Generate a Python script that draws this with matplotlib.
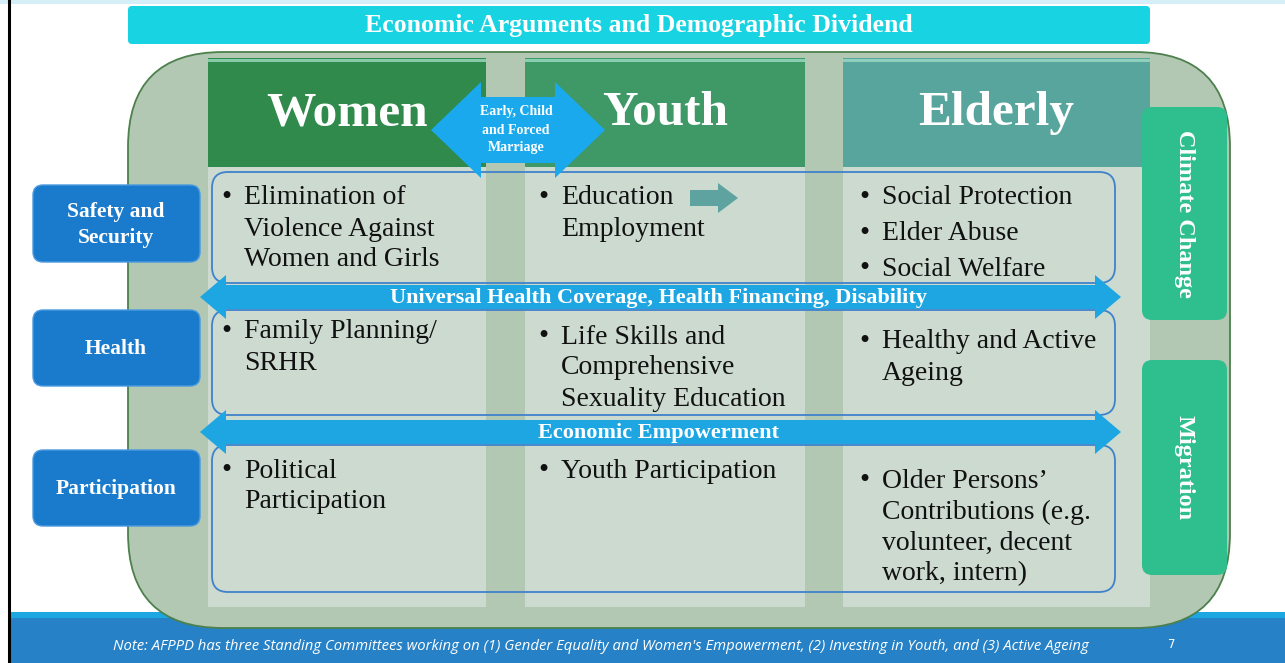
import matplotlib.pyplot as plt
from matplotlib.patches import FancyBboxPatch, Rectangle, Polygon

# ---------------- content ----------------
title = "Economic Arguments and Demographic Dividend"
columns = ["Women", "Youth", "Elderly"]
column_colors = ["#2F8A4B", "#3E9966", "#58A59D"]
rows = ["Safety and\nSecurity", "Health", "Participation"]
side_labels = ["Climate Change", "Migration"]
arrow_labels = ["Universal Health Coverage, Health Financing, Disability", "Economic Empowerment"]
marriage_label = "Early, Child\nand Forced\nMarriage"
note = ("Note: AFPPD has three Standing Committees working on (1) Gender Equality and Women's Empowerment, "
        "(2) Investing in Youth, and (3) Active Ageing")
page_no = "7"

# bullet cells: (column, first line y, [(bullet?, text), ...], line step)
cells = [
    (0, 198, [(True, "Elimination of"), (False, "Violence Against"), (False, "Women and Girls")], 31),
    (1, 198, [(True, "Education"), (False, "Employment")], 31),
    (2, 198, [(True, "Social Protection"), (True, "Elder Abuse"), (True, "Social Welfare")], 35.5),
    (0, 332, [(True, "Family Planning/"), (False, "SRHR")], 31),
    (1, 337, [(True, "Life Skills and"), (False, "Comprehensive"), (False, "Sexuality Education")], 31),
    (2, 342, [(True, "Healthy and Active"), (False, "Ageing")], 31),
    (0, 471, [(True, "Political"), (False, "Participation")], 31),
    (1, 471, [(True, "Youth Participation")], 31),
    (2, 481, [(True, "Older Persons\u2019"), (False, "Contributions (e.g."), (False, "volunteer, decent"),
              (False, "work, intern)")], 31),
]

# ---------------- layout ----------------
col_x = [(208, 486), (525, 805), (843, 1150)]
row_label_y = [(185, 262), (310, 386), (450, 526)]
row_frames = [(172, 283), (310, 415), (445, 592)]
arrow_y = [297, 432]
side_y = [(107, 320), (360, 575)]
serif = "Liberation Serif"

fig = plt.figure(figsize=(12.85, 6.63), dpi=100)
ax = fig.add_axes([0, 0, 1, 1])
ax.set_xlim(0, 1285)
ax.set_ylim(663, 0)
ax.axis("off")


def double_arrow(x0, x1, yc, shaft, head, head_len, color, z):
    h, s = head / 2, shaft / 2
    pts = [(x0, yc), (x0 + head_len, yc - h), (x0 + head_len, yc - s), (x1 - head_len, yc - s),
           (x1 - head_len, yc - h), (x1, yc), (x1 - head_len, yc + h), (x1 - head_len, yc + s),
           (x0 + head_len, yc + s), (x0 + head_len, yc + h)]
    ax.add_patch(Polygon(pts, closed=True, fc=color, ec="none", zorder=z))


# page furniture
ax.add_patch(Rectangle((0, 0), 1285, 4, fc="#D6EEF8", ec="none", zorder=0))
ax.plot([9, 9], [0, 663], color="black", lw=2.2, zorder=10)
ax.add_patch(Rectangle((10, 612), 1275, 7, fc="#1CA6E2", ec="none", zorder=1))
ax.add_patch(Rectangle((10, 618), 1275, 45, fc="#2681C6", ec="none", zorder=1))
ax.text(601, 647, note, color="white", fontsize=10.7, style="italic", ha="center", va="center",
        family="Open Sans", zorder=12)
ax.text(1172, 645, page_no, color="white", fontsize=8.5, ha="center", va="center", zorder=12)

# title bar
ax.add_patch(FancyBboxPatch((128, 6), 1022, 38, boxstyle="round,pad=0,rounding_size=4",
                            fc="#18D3E2", ec="none", zorder=2))
ax.text(639, 25.5, title, color="white", fontsize=18.5, weight="bold", family=serif,
        ha="center", va="center", zorder=3)

# big sage frame
ax.add_patch(FancyBboxPatch((128, 52), 1102, 576, boxstyle="round,pad=0,rounding_size=95",
                            fc="#B2C8B2", ec="#4C804C", lw=1.3, zorder=2))

# columns
for (x0, x1), name, c in zip(col_x, columns, column_colors):
    ax.add_patch(Rectangle((x0, 167), x1 - x0, 440, fc="#CCDACF", ec="none", zorder=3))
    ax.add_patch(Rectangle((x0, 58), x1 - x0, 109, fc=c, ec="none", zorder=3))
    ax.add_patch(Rectangle((x0, 59), x1 - x0, 3, fc="#9EDCC4", ec="none", alpha=0.8, zorder=3))
    ax.text((x0 + x1) / 2, 113, name, color="white", fontsize=35.5, weight="bold", family=serif,
            ha="center", va="center", zorder=4)

# blue row outlines
for y0, y1 in row_frames:
    ax.add_patch(FancyBboxPatch((212, y0), 903, y1 - y0, boxstyle="round,pad=0,rounding_size=16",
                                fc="none", ec="#3F82CC", lw=1.3, zorder=5))

# bullet texts
for col, y, lines, step in cells:
    bx = col_x[col][0] + (13 if col < 2 else 16)
    for i, (bul, txt) in enumerate(lines):
        yy = y + i * step
        if bul:
            ax.text(bx, yy, "\u2022", fontsize=21, family=serif, ha="left", va="center", color="#111111",
                    zorder=6)
        ax.text(bx + 23, yy, txt, fontsize=20, family=serif, ha="left", va="center", color="#111111",
                zorder=6)

# small arrow next to "Education"
ax.add_patch(Polygon([(690, 190), (718, 190), (718, 183), (738, 198), (718, 213), (718, 206), (690, 206)],
                     closed=True, fc="#5FA3A0", ec="none", zorder=6))

# horizontal double arrows
for yc, lab in zip(arrow_y, arrow_labels):
    double_arrow(200, 1121, yc, 24, 44, 26, "#1EA6E3", 7)
    ax.text(659, yc + 1, lab, color="white", fontsize=16, weight="bold", family=serif,
            ha="center", va="center", zorder=8)

# early / child marriage arrow
double_arrow(431, 605, 130, 66, 96, 50, "#1AA9EC", 7)
ax.text(516, 130, marriage_label, color="white", fontsize=10, weight="bold", family=serif,
        ha="center", va="center", linespacing=1.5, zorder=8)

# left row labels
for (y0, y1), lab in zip(row_label_y, rows):
    ax.add_patch(FancyBboxPatch((33, y0), 167, y1 - y0, boxstyle="round,pad=0,rounding_size=10",
                                fc="#1A7BCC", ec="#4A9AE0", lw=1, zorder=6))
    ax.text(116, (y0 + y1) / 2 + 1, lab, color="white", fontsize=15.5, weight="bold", family=serif,
            ha="center", va="center", linespacing=1.4, zorder=7)

# right side labels
for (y0, y1), lab in zip(side_y, side_labels):
    ax.add_patch(FancyBboxPatch((1142, y0), 85, y1 - y0, boxstyle="round,pad=0,rounding_size=10",
                                fc="#2FBF8E", ec="none", zorder=6))
    ax.text(1184, (y0 + y1) / 2, lab, color="white", fontsize=17.5, weight="bold", family=serif,
            ha="center", va="center", rotation=-90, zorder=7)

fig.savefig("out.png", dpi=100)
